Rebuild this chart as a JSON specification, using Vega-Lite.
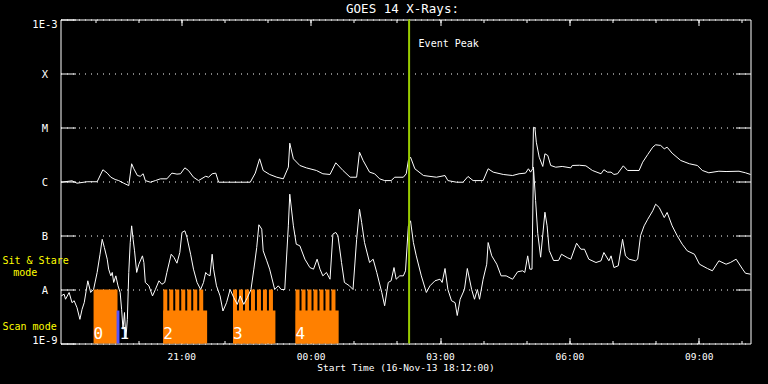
{
  "$schema": "https://vega.github.io/schema/vega-lite/v6.json",
  "width": 690,
  "height": 324,
  "autosize": "none",
  "padding": {"left": 60.5, "top": 19.5, "right": 17.5, "bottom": 40.5},
  "background": "black",
  "title": {"text": "GOES 14 X-Rays:", "color": "white", "font": "DejaVu Sans Mono", "fontSize": 12.5, "fontWeight": "normal", "anchor": "middle", "baseline": "bottom", "offset": 3, "dx": -3, "dy": 12.5},
  "config": {
    "view": {"stroke": "white", "strokeWidth": 1},
    "axis": {"labelFont": "DejaVu Sans Mono", "labelColor": "white", "tickColor": "white", "tickWidth": 1, "domain": false, "labelOverlap": false, "labelFlush": false, "labelBound": false, "titleColor": "white", "titleFont": "DejaVu Sans Mono", "grid": false}
  },
  "datasets": {
    "bars": [
      {"t0": "2013-11-16T18:58:00", "t1": "2013-11-16T19:31:20", "lo": 1e-9, "hi": 1e-8, "kind": "sit-stare"},
      {"t0": "2013-11-16T19:30:00", "t1": "2013-11-16T19:34:00", "lo": 1e-9, "hi": 4.08e-9, "kind": "cal"},
      {"t0": "2013-11-16T20:35:00", "t1": "2013-11-16T21:36:00", "lo": 1e-9, "hi": 4.08e-9, "kind": "scan"},
      {"t0": "2013-11-16T20:35:00", "t1": "2013-11-16T20:40:34", "lo": 1e-9, "hi": 1e-8, "kind": "sit-stare"},
      {"t0": "2013-11-16T20:43:20", "t1": "2013-11-16T20:48:54", "lo": 1e-9, "hi": 1e-8, "kind": "sit-stare"},
      {"t0": "2013-11-16T20:51:40", "t1": "2013-11-16T20:57:14", "lo": 1e-9, "hi": 1e-8, "kind": "sit-stare"},
      {"t0": "2013-11-16T21:00:00", "t1": "2013-11-16T21:05:34", "lo": 1e-9, "hi": 1e-8, "kind": "sit-stare"},
      {"t0": "2013-11-16T21:08:20", "t1": "2013-11-16T21:13:54", "lo": 1e-9, "hi": 1e-8, "kind": "sit-stare"},
      {"t0": "2013-11-16T21:16:40", "t1": "2013-11-16T21:22:14", "lo": 1e-9, "hi": 1e-8, "kind": "sit-stare"},
      {"t0": "2013-11-16T21:25:00", "t1": "2013-11-16T21:30:34", "lo": 1e-9, "hi": 1e-8, "kind": "sit-stare"},
      {"t0": "2013-11-16T22:12:00", "t1": "2013-11-16T23:11:00", "lo": 1e-9, "hi": 4.08e-9, "kind": "scan"},
      {"t0": "2013-11-16T22:12:00", "t1": "2013-11-16T22:17:34", "lo": 1e-9, "hi": 1e-8, "kind": "sit-stare"},
      {"t0": "2013-11-16T22:20:20", "t1": "2013-11-16T22:25:54", "lo": 1e-9, "hi": 1e-8, "kind": "sit-stare"},
      {"t0": "2013-11-16T22:28:40", "t1": "2013-11-16T22:34:14", "lo": 1e-9, "hi": 1e-8, "kind": "sit-stare"},
      {"t0": "2013-11-16T22:37:00", "t1": "2013-11-16T22:42:34", "lo": 1e-9, "hi": 1e-8, "kind": "sit-stare"},
      {"t0": "2013-11-16T22:45:20", "t1": "2013-11-16T22:50:54", "lo": 1e-9, "hi": 1e-8, "kind": "sit-stare"},
      {"t0": "2013-11-16T22:53:40", "t1": "2013-11-16T22:59:14", "lo": 1e-9, "hi": 1e-8, "kind": "sit-stare"},
      {"t0": "2013-11-16T23:02:00", "t1": "2013-11-16T23:07:34", "lo": 1e-9, "hi": 1e-8, "kind": "sit-stare"},
      {"t0": "2013-11-16T23:39:00", "t1": "2013-11-17T00:39:00", "lo": 1e-9, "hi": 4.08e-9, "kind": "scan"},
      {"t0": "2013-11-16T23:39:00", "t1": "2013-11-16T23:44:34", "lo": 1e-9, "hi": 1e-8, "kind": "sit-stare"},
      {"t0": "2013-11-16T23:47:20", "t1": "2013-11-16T23:52:54", "lo": 1e-9, "hi": 1e-8, "kind": "sit-stare"},
      {"t0": "2013-11-16T23:55:40", "t1": "2013-11-17T00:01:14", "lo": 1e-9, "hi": 1e-8, "kind": "sit-stare"},
      {"t0": "2013-11-17T00:04:00", "t1": "2013-11-17T00:09:34", "lo": 1e-9, "hi": 1e-8, "kind": "sit-stare"},
      {"t0": "2013-11-17T00:12:20", "t1": "2013-11-17T00:17:54", "lo": 1e-9, "hi": 1e-8, "kind": "sit-stare"},
      {"t0": "2013-11-17T00:20:40", "t1": "2013-11-17T00:26:14", "lo": 1e-9, "hi": 1e-8, "kind": "sit-stare"},
      {"t0": "2013-11-17T00:29:00", "t1": "2013-11-17T00:34:34", "lo": 1e-9, "hi": 1e-8, "kind": "sit-stare"}
    ],
    "blocklabels": [
      {"t": "2013-11-16T18:58:00", "label": "0"},
      {"t": "2013-11-16T19:34:00", "label": "1"},
      {"t": "2013-11-16T20:35:00", "label": "2"},
      {"t": "2013-11-16T22:12:00", "label": "3"},
      {"t": "2013-11-16T23:39:00", "label": "4"}
    ],
    "event": [
      {"t": "2013-11-17T02:17:00", "label": "Event Peak"}
    ],
    "upper": [
      {"t": "2013-11-16T18:13", "v": 9.7e-7},
      {"t": "2013-11-16T18:28", "v": 1.03e-6},
      {"t": "2013-11-16T18:35", "v": 9.3e-7},
      {"t": "2013-11-16T18:49", "v": 9.9e-7},
      {"t": "2013-11-16T19:03", "v": 9.9e-7},
      {"t": "2013-11-16T19:11", "v": 1.65e-6},
      {"t": "2013-11-16T19:17", "v": 1.43e-6},
      {"t": "2013-11-16T19:22", "v": 1.2e-6},
      {"t": "2013-11-16T19:28", "v": 1.09e-6},
      {"t": "2013-11-16T19:33", "v": 1.04e-6},
      {"t": "2013-11-16T19:40", "v": 9.3e-7},
      {"t": "2013-11-16T19:47", "v": 8.4e-7},
      {"t": "2013-11-16T19:51", "v": 2.13e-6},
      {"t": "2013-11-16T19:54", "v": 1.72e-6},
      {"t": "2013-11-16T19:59", "v": 1.29e-6},
      {"t": "2013-11-16T20:03", "v": 1.25e-6},
      {"t": "2013-11-16T20:07", "v": 1.39e-6},
      {"t": "2013-11-16T20:10", "v": 1.04e-6},
      {"t": "2013-11-16T20:17", "v": 9.7e-7},
      {"t": "2013-11-16T20:24", "v": 1.04e-6},
      {"t": "2013-11-16T20:31", "v": 1.12e-6},
      {"t": "2013-11-16T20:40", "v": 1.12e-6},
      {"t": "2013-11-16T20:47", "v": 1.43e-6},
      {"t": "2013-11-16T20:54", "v": 1.37e-6},
      {"t": "2013-11-16T20:59", "v": 1.39e-6},
      {"t": "2013-11-16T21:05", "v": 1.79e-6},
      {"t": "2013-11-16T21:10", "v": 1.6e-6},
      {"t": "2013-11-16T21:17", "v": 1.2e-6},
      {"t": "2013-11-16T21:24", "v": 1.04e-6},
      {"t": "2013-11-16T21:34", "v": 1.25e-6},
      {"t": "2013-11-16T21:38", "v": 1.2e-6},
      {"t": "2013-11-16T21:43", "v": 1.39e-6},
      {"t": "2013-11-16T21:48", "v": 1.43e-6},
      {"t": "2013-11-16T21:52", "v": 9.7e-7},
      {"t": "2013-11-16T22:04", "v": 9.7e-7},
      {"t": "2013-11-16T22:22", "v": 9.7e-7},
      {"t": "2013-11-16T22:36", "v": 9.7e-7},
      {"t": "2013-11-16T22:43", "v": 1.43e-6},
      {"t": "2013-11-16T22:49", "v": 2.63e-6},
      {"t": "2013-11-16T22:54", "v": 1.6e-6},
      {"t": "2013-11-16T23:03", "v": 1.35e-6},
      {"t": "2013-11-16T23:13", "v": 1.2e-6},
      {"t": "2013-11-16T23:22", "v": 1.12e-6},
      {"t": "2013-11-16T23:29", "v": 1.84e-6},
      {"t": "2013-11-16T23:31", "v": 5.12e-6},
      {"t": "2013-11-16T23:36", "v": 2.63e-6},
      {"t": "2013-11-16T23:45", "v": 1.98e-6},
      {"t": "2013-11-16T23:54", "v": 1.79e-6},
      {"t": "2013-11-17T00:08", "v": 1.6e-6},
      {"t": "2013-11-17T00:17", "v": 1.39e-6},
      {"t": "2013-11-17T00:27", "v": 1.35e-6},
      {"t": "2013-11-17T00:35", "v": 2.22e-6},
      {"t": "2013-11-17T00:45", "v": 1.6e-6},
      {"t": "2013-11-17T00:55", "v": 1.2e-6},
      {"t": "2013-11-17T01:04", "v": 1.2e-6},
      {"t": "2013-11-17T01:08", "v": 3.49e-6},
      {"t": "2013-11-17T01:13", "v": 2.45e-6},
      {"t": "2013-11-17T01:22", "v": 1.49e-6},
      {"t": "2013-11-17T01:29", "v": 1.39e-6},
      {"t": "2013-11-17T01:36", "v": 1.12e-6},
      {"t": "2013-11-17T01:43", "v": 1.04e-6},
      {"t": "2013-11-17T01:52", "v": 1.04e-6},
      {"t": "2013-11-17T01:57", "v": 1.2e-6},
      {"t": "2013-11-17T02:09", "v": 1.2e-6},
      {"t": "2013-11-17T02:13", "v": 1.39e-6},
      {"t": "2013-11-17T02:16", "v": 2.45e-6},
      {"t": "2013-11-17T02:19", "v": 2.82e-6},
      {"t": "2013-11-17T02:25", "v": 1.72e-6},
      {"t": "2013-11-17T02:37", "v": 1.29e-6},
      {"t": "2013-11-17T02:55", "v": 1.2e-6},
      {"t": "2013-11-17T03:07", "v": 1.29e-6},
      {"t": "2013-11-17T03:11", "v": 1.04e-6},
      {"t": "2013-11-17T03:23", "v": 9.7e-7},
      {"t": "2013-11-17T03:32", "v": 9.7e-7},
      {"t": "2013-11-17T03:39", "v": 1.24e-6},
      {"t": "2013-11-17T03:46", "v": 1.04e-6},
      {"t": "2013-11-17T04:00", "v": 1.04e-6},
      {"t": "2013-11-17T04:07", "v": 1.72e-6},
      {"t": "2013-11-17T04:14", "v": 1.49e-6},
      {"t": "2013-11-17T04:28", "v": 1.35e-6},
      {"t": "2013-11-17T04:41", "v": 1.29e-6},
      {"t": "2013-11-17T04:50", "v": 1.39e-6},
      {"t": "2013-11-17T04:59", "v": 1.43e-6},
      {"t": "2013-11-17T05:03", "v": 1.72e-6},
      {"t": "2013-11-17T05:06", "v": 1.49e-6},
      {"t": "2013-11-17T05:09", "v": 1.72e-6},
      {"t": "2013-11-17T05:10", "v": 1.01e-5},
      {"t": "2013-11-17T05:12", "v": 9.9e-6},
      {"t": "2013-11-17T05:14", "v": 5.34e-6},
      {"t": "2013-11-17T05:18", "v": 2.82e-6},
      {"t": "2013-11-17T05:23", "v": 1.9e-6},
      {"t": "2013-11-17T05:26", "v": 3.26e-6},
      {"t": "2013-11-17T05:30", "v": 3.03e-6},
      {"t": "2013-11-17T05:34", "v": 1.98e-6},
      {"t": "2013-11-17T05:41", "v": 1.84e-6},
      {"t": "2013-11-17T05:50", "v": 1.9e-6},
      {"t": "2013-11-17T06:02", "v": 1.79e-6},
      {"t": "2013-11-17T06:04", "v": 1.98e-6},
      {"t": "2013-11-17T06:14", "v": 2.0e-6},
      {"t": "2013-11-17T06:23", "v": 1.95e-6},
      {"t": "2013-11-17T06:32", "v": 1.6e-6},
      {"t": "2013-11-17T06:44", "v": 1.39e-6},
      {"t": "2013-11-17T06:48", "v": 1.65e-6},
      {"t": "2013-11-17T06:53", "v": 1.49e-6},
      {"t": "2013-11-17T06:58", "v": 1.49e-6},
      {"t": "2013-11-17T07:02", "v": 1.35e-6},
      {"t": "2013-11-17T07:07", "v": 1.39e-6},
      {"t": "2013-11-17T07:15", "v": 1.95e-6},
      {"t": "2013-11-17T07:21", "v": 1.6e-6},
      {"t": "2013-11-17T07:37", "v": 1.6e-6},
      {"t": "2013-11-17T07:42", "v": 2.28e-6},
      {"t": "2013-11-17T07:49", "v": 3.16e-6},
      {"t": "2013-11-17T07:56", "v": 4.32e-6},
      {"t": "2013-11-17T08:00", "v": 4.78e-6},
      {"t": "2013-11-17T08:07", "v": 4.66e-6},
      {"t": "2013-11-17T08:12", "v": 4.03e-6},
      {"t": "2013-11-17T08:16", "v": 4.32e-6},
      {"t": "2013-11-17T08:23", "v": 3.34e-6},
      {"t": "2013-11-17T08:35", "v": 2.45e-6},
      {"t": "2013-11-17T08:47", "v": 2.13e-6},
      {"t": "2013-11-17T08:58", "v": 1.98e-6},
      {"t": "2013-11-17T09:05", "v": 1.6e-6},
      {"t": "2013-11-17T09:14", "v": 1.45e-6},
      {"t": "2013-11-17T09:28", "v": 1.55e-6},
      {"t": "2013-11-17T09:38", "v": 1.53e-6},
      {"t": "2013-11-17T09:56", "v": 1.55e-6},
      {"t": "2013-11-17T10:05", "v": 1.45e-6},
      {"t": "2013-11-17T10:12", "v": 1.35e-6}
    ],
    "lower": [
      {"t": "2013-11-16T18:13", "v": 7.6e-9},
      {"t": "2013-11-16T18:17", "v": 8.2e-9},
      {"t": "2013-11-16T18:19", "v": 6.6e-9},
      {"t": "2013-11-16T18:24", "v": 8.8e-9},
      {"t": "2013-11-16T18:28", "v": 5.7e-9},
      {"t": "2013-11-16T18:31", "v": 6.2e-9},
      {"t": "2013-11-16T18:35", "v": 4.6e-9},
      {"t": "2013-11-16T18:39", "v": 2.8e-9},
      {"t": "2013-11-16T18:42", "v": 4.3e-9},
      {"t": "2013-11-16T18:45", "v": 5.7e-9},
      {"t": "2013-11-16T18:50", "v": 1.45e-8},
      {"t": "2013-11-16T18:54", "v": 8.8e-9},
      {"t": "2013-11-16T18:58", "v": 1.0e-8},
      {"t": "2013-11-16T19:03", "v": 2.07e-8},
      {"t": "2013-11-16T19:07", "v": 4.5e-8},
      {"t": "2013-11-16T19:10", "v": 8.5e-8},
      {"t": "2013-11-16T19:13", "v": 6.0e-8},
      {"t": "2013-11-16T19:17", "v": 3.64e-8},
      {"t": "2013-11-16T19:19", "v": 2.38e-8},
      {"t": "2013-11-16T19:22", "v": 1.79e-8},
      {"t": "2013-11-16T19:24", "v": 2.07e-8},
      {"t": "2013-11-16T19:26", "v": 1.35e-8},
      {"t": "2013-11-16T19:29", "v": 1.79e-8},
      {"t": "2013-11-16T19:32", "v": 1.17e-8},
      {"t": "2013-11-16T19:35", "v": 8.8e-9},
      {"t": "2013-11-16T19:37", "v": 4.3e-9},
      {"t": "2013-11-16T19:39", "v": 1.84e-9},
      {"t": "2013-11-16T19:41", "v": 3.75e-9},
      {"t": "2013-11-16T19:43", "v": 1.24e-9},
      {"t": "2013-11-16T19:45", "v": 2.8e-9},
      {"t": "2013-11-16T19:47", "v": 2.07e-8},
      {"t": "2013-11-16T19:49", "v": 7.4e-8},
      {"t": "2013-11-16T19:51", "v": 1.51e-7},
      {"t": "2013-11-16T19:53", "v": 8.5e-8},
      {"t": "2013-11-16T19:55", "v": 5.2e-8},
      {"t": "2013-11-16T19:58", "v": 2.07e-8},
      {"t": "2013-11-16T20:01", "v": 2.94e-8},
      {"t": "2013-11-16T20:06", "v": 4.2e-8},
      {"t": "2013-11-16T20:08", "v": 3.16e-8},
      {"t": "2013-11-16T20:10", "v": 1.35e-8},
      {"t": "2013-11-16T20:15", "v": 1.17e-8},
      {"t": "2013-11-16T20:20", "v": 7.6e-9},
      {"t": "2013-11-16T20:24", "v": 1.0e-8},
      {"t": "2013-11-16T20:29", "v": 1.45e-8},
      {"t": "2013-11-16T20:33", "v": 1.25e-8},
      {"t": "2013-11-16T20:37", "v": 1.35e-8},
      {"t": "2013-11-16T20:40", "v": 2.07e-8},
      {"t": "2013-11-16T20:46", "v": 4.5e-8},
      {"t": "2013-11-16T20:50", "v": 3.9e-8},
      {"t": "2013-11-16T20:54", "v": 3.07e-8},
      {"t": "2013-11-16T20:58", "v": 4.84e-8},
      {"t": "2013-11-16T21:01", "v": 1.14e-7},
      {"t": "2013-11-16T21:05", "v": 1.22e-7},
      {"t": "2013-11-16T21:08", "v": 9.2e-8},
      {"t": "2013-11-16T21:13", "v": 4.5e-8},
      {"t": "2013-11-16T21:17", "v": 2.38e-8},
      {"t": "2013-11-16T21:22", "v": 1.35e-8},
      {"t": "2013-11-16T21:27", "v": 1.0e-8},
      {"t": "2013-11-16T21:31", "v": 1.35e-8},
      {"t": "2013-11-16T21:34", "v": 2.07e-8},
      {"t": "2013-11-16T21:36", "v": 1.92e-8},
      {"t": "2013-11-16T21:40", "v": 1.79e-8},
      {"t": "2013-11-16T21:43", "v": 4.5e-8},
      {"t": "2013-11-16T21:45", "v": 2.38e-8},
      {"t": "2013-11-16T21:49", "v": 1.17e-8},
      {"t": "2013-11-16T21:54", "v": 7.6e-9},
      {"t": "2013-11-16T21:58", "v": 4.0e-9},
      {"t": "2013-11-16T22:03", "v": 5.7e-9},
      {"t": "2013-11-16T22:08", "v": 1.0e-8},
      {"t": "2013-11-16T22:13", "v": 7.1e-9},
      {"t": "2013-11-16T22:18", "v": 5.3e-9},
      {"t": "2013-11-16T22:22", "v": 7.6e-9},
      {"t": "2013-11-16T22:27", "v": 5.3e-9},
      {"t": "2013-11-16T22:32", "v": 7.1e-9},
      {"t": "2013-11-16T22:37", "v": 1.0e-8},
      {"t": "2013-11-16T22:41", "v": 2.38e-8},
      {"t": "2013-11-16T22:45", "v": 6.0e-8},
      {"t": "2013-11-16T22:48", "v": 1.58e-7},
      {"t": "2013-11-16T22:52", "v": 1.31e-7},
      {"t": "2013-11-16T22:54", "v": 5.2e-8},
      {"t": "2013-11-16T22:59", "v": 3.4e-8},
      {"t": "2013-11-16T23:03", "v": 2.38e-8},
      {"t": "2013-11-16T23:10", "v": 1.0e-8},
      {"t": "2013-11-16T23:15", "v": 1.17e-8},
      {"t": "2013-11-16T23:19", "v": 1.0e-8},
      {"t": "2013-11-16T23:24", "v": 1.0e-8},
      {"t": "2013-11-16T23:29", "v": 1.51e-7},
      {"t": "2013-11-16T23:31", "v": 5.82e-7},
      {"t": "2013-11-16T23:36", "v": 1.51e-7},
      {"t": "2013-11-16T23:40", "v": 6.9e-8},
      {"t": "2013-11-16T23:45", "v": 6.45e-8},
      {"t": "2013-11-16T23:52", "v": 3.64e-8},
      {"t": "2013-11-16T23:59", "v": 2.55e-8},
      {"t": "2013-11-17T00:04", "v": 2.38e-8},
      {"t": "2013-11-17T00:09", "v": 3.64e-8},
      {"t": "2013-11-17T00:13", "v": 2.38e-8},
      {"t": "2013-11-17T00:17", "v": 1.79e-8},
      {"t": "2013-11-17T00:22", "v": 2.07e-8},
      {"t": "2013-11-17T00:27", "v": 1.55e-8},
      {"t": "2013-11-17T00:31", "v": 1.06e-7},
      {"t": "2013-11-17T00:35", "v": 1.14e-7},
      {"t": "2013-11-17T00:38", "v": 9.9e-8},
      {"t": "2013-11-17T00:43", "v": 3.16e-8},
      {"t": "2013-11-17T00:47", "v": 1.35e-8},
      {"t": "2013-11-17T00:54", "v": 1.17e-8},
      {"t": "2013-11-17T00:59", "v": 1.0e-8},
      {"t": "2013-11-17T01:04", "v": 8.5e-8},
      {"t": "2013-11-17T01:08", "v": 3.07e-7},
      {"t": "2013-11-17T01:11", "v": 1.74e-7},
      {"t": "2013-11-17T01:15", "v": 7.4e-8},
      {"t": "2013-11-17T01:22", "v": 3.16e-8},
      {"t": "2013-11-17T01:27", "v": 3.64e-8},
      {"t": "2013-11-17T01:32", "v": 2.07e-8},
      {"t": "2013-11-17T01:39", "v": 8.8e-9},
      {"t": "2013-11-17T01:43", "v": 5.0e-9},
      {"t": "2013-11-17T01:48", "v": 1.35e-8},
      {"t": "2013-11-17T01:52", "v": 1.45e-8},
      {"t": "2013-11-17T01:56", "v": 2.55e-8},
      {"t": "2013-11-17T01:59", "v": 1.55e-8},
      {"t": "2013-11-17T02:04", "v": 1.79e-8},
      {"t": "2013-11-17T02:09", "v": 1.79e-8},
      {"t": "2013-11-17T02:12", "v": 2.22e-8},
      {"t": "2013-11-17T02:16", "v": 1.51e-7},
      {"t": "2013-11-17T02:19", "v": 1.87e-7},
      {"t": "2013-11-17T02:23", "v": 7.4e-8},
      {"t": "2013-11-17T02:27", "v": 4.2e-8},
      {"t": "2013-11-17T02:34", "v": 1.79e-8},
      {"t": "2013-11-17T02:41", "v": 8.8e-9},
      {"t": "2013-11-17T02:46", "v": 1.17e-8},
      {"t": "2013-11-17T02:53", "v": 1.45e-8},
      {"t": "2013-11-17T03:00", "v": 1.55e-8},
      {"t": "2013-11-17T03:03", "v": 1.35e-8},
      {"t": "2013-11-17T03:07", "v": 2.45e-8},
      {"t": "2013-11-17T03:11", "v": 1.0e-8},
      {"t": "2013-11-17T03:16", "v": 6.2e-9},
      {"t": "2013-11-17T03:21", "v": 5.7e-9},
      {"t": "2013-11-17T03:24", "v": 3.3e-9},
      {"t": "2013-11-17T03:28", "v": 6.6e-9},
      {"t": "2013-11-17T03:34", "v": 1.0e-8},
      {"t": "2013-11-17T03:38", "v": 2.45e-8},
      {"t": "2013-11-17T03:44", "v": 1.0e-8},
      {"t": "2013-11-17T03:48", "v": 6.6e-9},
      {"t": "2013-11-17T03:52", "v": 1.0e-8},
      {"t": "2013-11-17T03:55", "v": 6.6e-9},
      {"t": "2013-11-17T04:00", "v": 1.55e-8},
      {"t": "2013-11-17T04:05", "v": 2.94e-8},
      {"t": "2013-11-17T04:07", "v": 7.4e-8},
      {"t": "2013-11-17T04:12", "v": 4.2e-8},
      {"t": "2013-11-17T04:19", "v": 2.94e-8},
      {"t": "2013-11-17T04:25", "v": 1.79e-8},
      {"t": "2013-11-17T04:32", "v": 1.79e-8},
      {"t": "2013-11-17T04:41", "v": 1.55e-8},
      {"t": "2013-11-17T04:48", "v": 2.13e-8},
      {"t": "2013-11-17T04:55", "v": 2.22e-8},
      {"t": "2013-11-17T04:58", "v": 2.07e-8},
      {"t": "2013-11-17T05:02", "v": 4.2e-8},
      {"t": "2013-11-17T05:05", "v": 2.38e-8},
      {"t": "2013-11-17T05:08", "v": 2.38e-8},
      {"t": "2013-11-17T05:10", "v": 1.84e-6},
      {"t": "2013-11-17T05:13", "v": 4.45e-7},
      {"t": "2013-11-17T05:16", "v": 1.09e-7},
      {"t": "2013-11-17T05:20", "v": 3.96e-8},
      {"t": "2013-11-17T05:26", "v": 2.7e-7},
      {"t": "2013-11-17T05:29", "v": 1.51e-7},
      {"t": "2013-11-17T05:32", "v": 5.27e-8},
      {"t": "2013-11-17T05:38", "v": 3.44e-8},
      {"t": "2013-11-17T05:45", "v": 3.46e-8},
      {"t": "2013-11-17T05:49", "v": 4.5e-8},
      {"t": "2013-11-17T05:57", "v": 3.9e-8},
      {"t": "2013-11-17T06:02", "v": 3.64e-8},
      {"t": "2013-11-17T06:10", "v": 7.2e-8},
      {"t": "2013-11-17T06:16", "v": 5.57e-8},
      {"t": "2013-11-17T06:21", "v": 5.57e-8},
      {"t": "2013-11-17T06:27", "v": 3.64e-8},
      {"t": "2013-11-17T06:37", "v": 3.16e-8},
      {"t": "2013-11-17T06:44", "v": 3.4e-8},
      {"t": "2013-11-17T06:48", "v": 4.84e-8},
      {"t": "2013-11-17T06:55", "v": 3.4e-8},
      {"t": "2013-11-17T06:58", "v": 4.2e-8},
      {"t": "2013-11-17T07:02", "v": 2.55e-8},
      {"t": "2013-11-17T07:08", "v": 2.75e-8},
      {"t": "2013-11-17T07:14", "v": 8.5e-8},
      {"t": "2013-11-17T07:18", "v": 4.2e-8},
      {"t": "2013-11-17T07:23", "v": 3.64e-8},
      {"t": "2013-11-17T07:32", "v": 3.4e-8},
      {"t": "2013-11-17T07:35", "v": 3.64e-8},
      {"t": "2013-11-17T07:39", "v": 9.9e-8},
      {"t": "2013-11-17T07:44", "v": 1.51e-7},
      {"t": "2013-11-17T07:49", "v": 2.0e-7},
      {"t": "2013-11-17T07:56", "v": 2.87e-7},
      {"t": "2013-11-17T08:00", "v": 3.8e-7},
      {"t": "2013-11-17T08:05", "v": 3.3e-7},
      {"t": "2013-11-17T08:12", "v": 2.15e-7},
      {"t": "2013-11-17T08:16", "v": 2.67e-7},
      {"t": "2013-11-17T08:23", "v": 1.51e-7},
      {"t": "2013-11-17T08:30", "v": 9.9e-8},
      {"t": "2013-11-17T08:37", "v": 6.9e-8},
      {"t": "2013-11-17T08:44", "v": 5.2e-8},
      {"t": "2013-11-17T08:54", "v": 4.5e-8},
      {"t": "2013-11-17T09:01", "v": 2.94e-8},
      {"t": "2013-11-17T09:12", "v": 2.45e-8},
      {"t": "2013-11-17T09:19", "v": 2.22e-8},
      {"t": "2013-11-17T09:28", "v": 3.4e-8},
      {"t": "2013-11-17T09:38", "v": 2.94e-8},
      {"t": "2013-11-17T09:44", "v": 3.16e-8},
      {"t": "2013-11-17T09:52", "v": 3.64e-8},
      {"t": "2013-11-17T10:01", "v": 2.38e-8},
      {"t": "2013-11-17T10:05", "v": 2.0e-8},
      {"t": "2013-11-17T10:12", "v": 1.92e-8}
    ]
  },
  "resolve": {"axis": {"x": "independent", "y": "independent"}},
  "layer": [
    {
      "data": {"name": "bars"},
      "mark": {"type": "rect"},
      "encoding": {
        "x": {
          "field": "t0", "type": "temporal",
          "scale": {"domain": [{"year": 2013, "month": 11, "date": 16, "hours": 18, "minutes": 12}, {"year": 2013, "month": 11, "date": 17, "hours": 10, "minutes": 12}]},
          "axis": {
            "orient": "bottom",
            "values": [{"year": 2013, "month": 11, "date": 16, "hours": 21}, {"year": 2013, "month": 11, "date": 17, "hours": 0}, {"year": 2013, "month": 11, "date": 17, "hours": 3}, {"year": 2013, "month": 11, "date": 17, "hours": 6}, {"year": 2013, "month": 11, "date": 17, "hours": 9}],
            "format": "%H:%M",
            "tickSize": -6,
            "labelPadding": 21.5,
            "labelBaseline": "alphabetic",
            "labelFontSize": 9.5,
            "title": "Start Time (16-Nov-13 18:12:00)",
            "titleFontSize": 9.5,
            "titleFontWeight": "normal",
            "titleBaseline": "alphabetic",
            "titlePadding": 10
          }
        },
        "x2": {"field": "t1"},
        "y": {
          "field": "lo", "type": "quantitative",
          "scale": {"type": "log", "domain": [1e-9, 1e-3], "nice": false},
          "axis": {
            "orient": "left",
            "values": [1e-3, 1e-4, 1e-5, 1e-6, 1e-7, 1e-8, 1e-9],
            "labelExpr": "['1E-9','A','B','C','M','X','1E-3'][round(log(datum.value)/LN10)+9]",
            "labelAlign": "center",
            "labelPadding": 31,
            "tickSize": -15,
            "labelFontSize": 10.5,
            "labelBaseline": "alphabetic",
            "labelOffset": {"condition": [{"test": "datum.value > 5e-4", "value": 8}, {"test": "datum.value < 2e-9", "value": 0}], "value": 4},
            "grid": true,
            "gridColor": "white",
            "gridDash": [1, 5],
            "gridWidth": 1,
            "gridOpacity": 1,
            "title": null
          }
        },
        "y2": {"field": "hi"},
        "color": {"field": "kind", "type": "nominal", "scale": {"domain": ["sit-stare", "scan", "cal"], "range": ["#ff8000", "#ff8000", "#5555ff"]}, "legend": null}
      }
    },
    {
      "data": {"name": "upper"},
      "mark": {"type": "line", "color": "white", "strokeWidth": 1},
      "encoding": {
        "x": {
          "field": "t", "type": "temporal",
          "axis": {
            "orient": "bottom",
            "values": [{"year": 2013, "month": 11, "date": 16, "hours": 19}, {"year": 2013, "month": 11, "date": 16, "hours": 20}, {"year": 2013, "month": 11, "date": 16, "hours": 21}, {"year": 2013, "month": 11, "date": 16, "hours": 22}, {"year": 2013, "month": 11, "date": 16, "hours": 23}, {"year": 2013, "month": 11, "date": 17, "hours": 0}, {"year": 2013, "month": 11, "date": 17, "hours": 1}, {"year": 2013, "month": 11, "date": 17, "hours": 2}, {"year": 2013, "month": 11, "date": 17, "hours": 3}, {"year": 2013, "month": 11, "date": 17, "hours": 4}, {"year": 2013, "month": 11, "date": 17, "hours": 5}, {"year": 2013, "month": 11, "date": 17, "hours": 6}, {"year": 2013, "month": 11, "date": 17, "hours": 7}, {"year": 2013, "month": 11, "date": 17, "hours": 8}, {"year": 2013, "month": 11, "date": 17, "hours": 9}, {"year": 2013, "month": 11, "date": 17, "hours": 10}],
            "tickSize": -3, "labels": false, "title": null
          }
        },
        "y": {
          "field": "v", "type": "quantitative",
          "axis": {"orient": "right", "values": [1e-4, 1e-5, 1e-6, 1e-7, 1e-8], "tickSize": -15, "labels": false, "title": null}
        }
      }
    },
    {
      "data": {"name": "lower"},
      "mark": {"type": "line", "color": "white", "strokeWidth": 1},
      "encoding": {
        "x": {
          "field": "t", "type": "temporal",
          "axis": {
            "orient": "top",
            "values": [{"year": 2013, "month": 11, "date": 16, "hours": 21}, {"year": 2013, "month": 11, "date": 17, "hours": 0}, {"year": 2013, "month": 11, "date": 17, "hours": 3}, {"year": 2013, "month": 11, "date": 17, "hours": 6}, {"year": 2013, "month": 11, "date": 17, "hours": 9}],
            "tickSize": -6, "labels": false, "title": null
          }
        },
        "y": {
          "field": "v", "type": "quantitative",
          "axis": {
            "orient": "left",
            "values": [3.03e-8, 1.83e-8, 1.84e-9],
            "labelExpr": "datum.value > 2.5e-8 ? 'Sit & Stare' : (datum.value > 1e-8 ? 'mode' : 'Scan mode')",
            "labelColor": "#ffff00",
            "labelAlign": "left",
            "labelBaseline": "alphabetic",
            "labelPadding": {"condition": {"test": "datum.value > 1e-8 && datum.value < 2.5e-8", "value": 47.8}, "value": 58.5},
            "labelFontSize": 10,
            "ticks": false,
            "title": null
          }
        }
      }
    },
    {
      "data": {"name": "blocklabels"},
      "mark": {"type": "text", "color": "white", "font": "DejaVu Sans Mono", "fontSize": 16, "align": "left", "baseline": "alphabetic"},
      "encoding": {
        "x": {
          "field": "t", "type": "temporal",
          "axis": {
            "orient": "top",
            "values": [{"year": 2013, "month": 11, "date": 16, "hours": 19}, {"year": 2013, "month": 11, "date": 16, "hours": 20}, {"year": 2013, "month": 11, "date": 16, "hours": 21}, {"year": 2013, "month": 11, "date": 16, "hours": 22}, {"year": 2013, "month": 11, "date": 16, "hours": 23}, {"year": 2013, "month": 11, "date": 17, "hours": 0}, {"year": 2013, "month": 11, "date": 17, "hours": 1}, {"year": 2013, "month": 11, "date": 17, "hours": 2}, {"year": 2013, "month": 11, "date": 17, "hours": 3}, {"year": 2013, "month": 11, "date": 17, "hours": 4}, {"year": 2013, "month": 11, "date": 17, "hours": 5}, {"year": 2013, "month": 11, "date": 17, "hours": 6}, {"year": 2013, "month": 11, "date": 17, "hours": 7}, {"year": 2013, "month": 11, "date": 17, "hours": 8}, {"year": 2013, "month": 11, "date": 17, "hours": 9}, {"year": 2013, "month": 11, "date": 17, "hours": 10}],
            "tickSize": -3, "labels": false, "title": null
          }
        },
        "y": {"datum": 1.23e-9, "type": "quantitative", "axis": null},
        "text": {"field": "label"}
      }
    },
    {
      "data": {"name": "event"},
      "mark": {"type": "rule", "color": "#99cc00", "strokeWidth": 2},
      "encoding": {
        "x": {"field": "t", "type": "temporal", "axis": null}
      }
    },
    {
      "data": {"name": "event"},
      "mark": {"type": "text", "color": "white", "font": "DejaVu Sans Mono", "fontSize": 10, "align": "left", "baseline": "alphabetic", "dx": 9.5},
      "encoding": {
        "x": {"field": "t", "type": "temporal", "axis": null},
        "y": {"datum": 3.1e-4, "type": "quantitative", "axis": null},
        "text": {"field": "label"}
      }
    }
  ]
}
